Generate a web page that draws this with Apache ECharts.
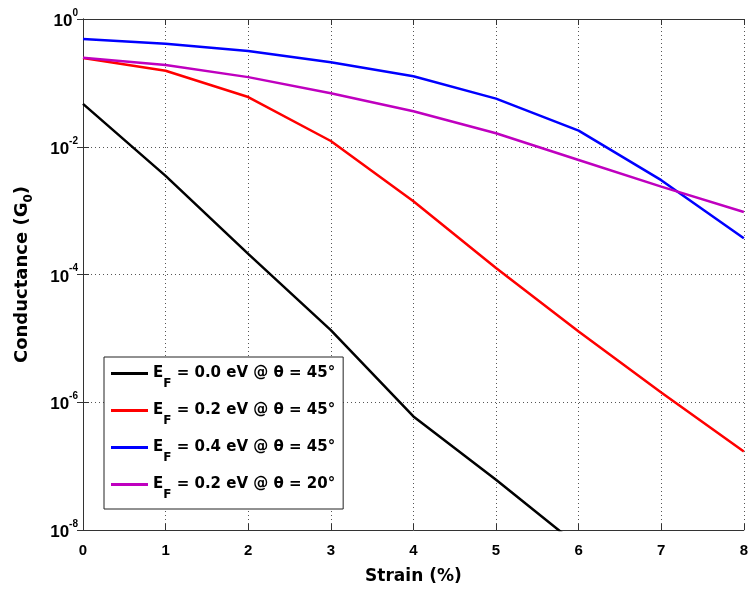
<!DOCTYPE html>
<html>
<head>
<meta charset="utf-8">
<script src="https://cdn.jsdelivr.net/npm/echarts@6/dist/echarts.min.js"></script>
<style>html,body{margin:0;padding:0;background:#fff}#c{width:751px;height:592px}</style>
</head>
<body>
<div id="c"></div>
<script>
const strain = [0, 1, 2, 3, 4, 5, 6, 7, 8];
const ef00_45 = [0.047, 3.5e-3, 2.1e-4, 1.35e-5, 6.0e-7, 6.1e-8, 5.6e-9, 5.5e-10, 5.5e-11];
const ef02_45 = [0.245, 0.155, 0.06, 0.0123, 1.4e-3, 1.26e-4, 1.28e-5, 1.42e-6, 1.7e-7];
const ef04_45 = [0.486, 0.41, 0.316, 0.21, 0.127, 0.0566, 0.0179, 3.0e-3, 3.7e-4];
const ef02_20 = [0.248, 0.19, 0.123, 0.069, 0.036, 0.0163, 0.0062, 0.00238, 9.5e-4];
const seriesNames = ['E_F = 0.0 eV @ θ = 45°', 'E_F = 0.2 eV @ θ = 45°', 'E_F = 0.4 eV @ θ = 45°', 'E_F = 0.2 eV @ θ = 20°'];
const seriesColors = ['#000000', '#ff0000', '#0000ff', '#bf00bf'];
const seriesData = [ef00_45, ef02_45, ef04_45, ef02_20];
const xTitle = 'Strain (%)';

const chart = echarts.init(document.getElementById('c'));
const font = 'Liberation Sans, Arial, Helvetica, sans-serif';
const wide = 'DejaVu Sans, Liberation Sans, sans-serif';
const gridLine = { show: true, lineStyle: { color: '#555', type: [1, 3], width: 1 } };
const axisLine = { show: true, lineStyle: { color: '#333', width: 1 } };

chart.setOption({
  animation: false,
  backgroundColor: '#fff',
  grid: { left: 83, right: 4, top: 19, bottom: 62 },
  xAxis: [{
    type: 'value', min: 0, max: 8, interval: 1,
    axisLine: axisLine,
    axisTick: { show: true, inside: true, length: 6, lineStyle: { color: '#333' } },
    axisLabel: { fontFamily: font, fontWeight: 'bold', fontSize: 15, color: '#000', margin: 13 },
    splitLine: gridLine,
    name: xTitle, nameLocation: 'middle', nameGap: 38,
    nameTextStyle: { fontFamily: wide, fontWeight: 'bold', fontSize: 17, color: '#000' }
  }, {
    type: 'value', min: 0, max: 8, interval: 1, position: 'top',
    axisLine: axisLine,
    axisTick: { show: true, inside: true, length: 6, lineStyle: { color: '#333' } },
    axisLabel: { show: false }, splitLine: { show: false }
  }],
  yAxis: [{
    type: 'log', logBase: 10, min: 1e-8, max: 1, interval: 2,
    axisLine: axisLine,
    axisTick: { show: true, inside: true, length: 6, lineStyle: { color: '#333' } },
    splitLine: gridLine,
    axisLabel: {
      margin: 5,
      formatter: v => '{b|10}{s|' + Math.round(Math.log10(v)) + '}',
      rich: {
        b: { fontFamily: font, fontWeight: 'bold', fontSize: 17, color: '#000', lineHeight: 22, verticalAlign: 'bottom' },
        s: { fontFamily: font, fontWeight: 'bold', fontSize: 10, color: '#000', lineHeight: 8, verticalAlign: 'top' }
      }
    },
    name: '{n|Conductance (G}{sub|0}{n|)}', nameLocation: 'middle', nameGap: 52, nameRotate: 90,
    nameTextStyle: {
      rich: {
        n: { fontFamily: wide, fontWeight: 'bold', fontSize: 18, color: '#000', lineHeight: 18, verticalAlign: 'top' },
        sub: { fontFamily: wide, fontWeight: 'bold', fontSize: 12, color: '#000', lineHeight: 12, padding: [10, 0, 0, 0], verticalAlign: 'top' }
      }
    }
  }, {
    type: 'log', logBase: 10, min: 1e-8, max: 1, interval: 2, position: 'right',
    axisLine: axisLine,
    axisTick: { show: true, inside: true, length: 6, lineStyle: { color: '#333' } },
    axisLabel: { show: false }, splitLine: { show: false }
  }],
  legend: {
    show: true,
    left: 104, top: 357, orient: 'vertical',
    backgroundColor: '#fff', borderColor: '#222', borderWidth: 1,
    padding: [9, 8, 8, 7], itemGap: 13, itemWidth: 37, itemHeight: 3,
    icon: 'rect',
    formatter: name => '{e|E}{f|F}{t|' + name.slice(3) + '}',
    textStyle: {
      rich: {
        e: { fontFamily: wide, fontWeight: 'bold', fontSize: 15, color: '#000', lineHeight: 15, verticalAlign: 'top' },
        f: { fontFamily: wide, fontWeight: 'bold', fontSize: 12, color: '#000', lineHeight: 12, padding: [12, 0, 0, 0], verticalAlign: 'top' },
        t: { fontFamily: wide, fontWeight: 'bold', fontSize: 15, color: '#000', lineHeight: 15, verticalAlign: 'top' }
      }
    },
    data: seriesNames
  },
  series: seriesData.map((arr, i) => ({
    name: seriesNames[i], type: 'line', showSymbol: false, symbol: 'none',
    clip: true,
    itemStyle: { color: seriesColors[i] },
    lineStyle: { color: seriesColors[i], width: 2.5 },
    data: strain.map((x, j) => [x, arr[j]])
  }))
});
</script>
</body>
</html>
